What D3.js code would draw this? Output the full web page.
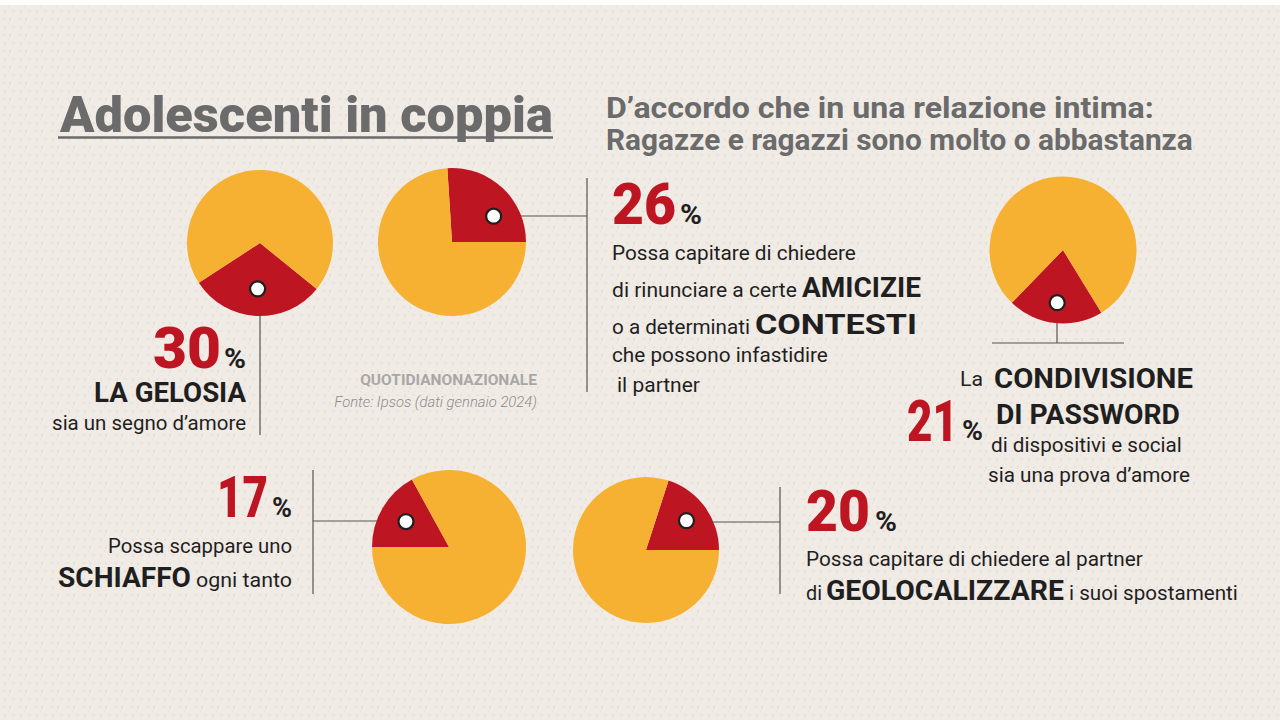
<!DOCTYPE html>
<html><head><meta charset="utf-8">
<script src="https://cdn.jsdelivr.net/npm/d3@7"></script>
<style>
html,body{margin:0;padding:0;background:#f1ebe6;}
svg{display:block;}
</style></head>
<body>
<svg id="c" width="1280" height="720"></svg>
<script>
// ---- data ----
const values = [30, 26, 21, 17, 20];
const percentLabels = ["30", "26", "21", "17", "20"];
const title = "Adolescenti in coppia";
const subtitle = ["D\u2019accordo che in una relazione intima:", "Ragazze e ragazzi sono molto o abbastanza"];
const source = ["QUOTIDIANONAZIONALE", "Fonte: Ipsos (dati gennaio 2024)"];

// ---- layout (positions / styles) ----
const ORANGE = "#f6b133", RED = "#bd1622", INK = "#1f1f1f", GREY = "#6b6b6b";
const pies = [
  {cx: 260, cy: 243, r: 73, start: 129,  t: 0.5,  d: 46},
  {cx: 452, cy: 242, r: 74, start: -3.6, t: 0.66, d: 49},
  {cx: 1063, cy: 250, r: 73.5, start: 148.5, t: 0.5, d: 53},
  {cx: 449, cy: 547, r: 77, start: 270, t: 0.5, d: 50},
  {cx: 646, cy: 550, r: 73, start: 18, t: 0.5, d: 50}
];

const svg = d3.select("#c");

// background pattern
const defs = svg.append("defs");
const pat = defs.append("pattern").attr("id","bgp").attr("width",16).attr("height",16).attr("patternUnits","userSpaceOnUse");
pat.append("rect").attr("width",16).attr("height",16).attr("fill","#f1ebe6");
pat.append("path").attr("d","M2 3h3M10 2v3M5 10v3M12 11h3M8 7h1").attr("stroke","#e5dcd5").attr("stroke-width",1.2);
svg.append("rect").attr("width",1280).attr("height",720).attr("fill","url(#bgp)");
svg.append("rect").attr("width",1280).attr("height",5).attr("fill","#ffffff");

// helper for text segments: condensed to a target width by horizontal scaling
function seg(x, y, txt, size, weight, fill, width, anchor, style) {
  const t = svg.append("text").attr("x", 0).attr("y", 0).text(txt)
    .attr("font-family", "Roboto, 'Noto Sans', sans-serif")
    .attr("font-size", size).attr("font-weight", weight).attr("fill", fill)
    .attr("text-anchor", anchor || "start");
  if (style) t.attr("font-style", style);
  let sx = 1;
  if (width) {
    const natural = t.node().getComputedTextLength();
    if (natural > 0) sx = width / natural;
  }
  t.attr("transform", `translate(${x},${y}) scale(${sx},1)`);
  return t;
}

// title
seg(60, 132, title, 50, 900, GREY, 493);
svg.append("line").attr("x1",58).attr("x2",553).attr("y1",137.5).attr("y2",137.5).attr("stroke",GREY).attr("stroke-width",2.5);
seg(606, 118, subtitle[0], 29, 700, GREY, 548);
seg(606, 150, subtitle[1], 29, 700, GREY, 587);

// leader lines
const lineSpec = [
  [[260,289],[260,435]],
  [[494,216],[587,216]], [[587,178],[587,392]],
  [[1057,303],[1057,343]], [[992,343],[1124,343]],
  [[406,521],[313,521]], [[313,470],[313,594]],
  [[687,522],[780,522]], [[780,487],[780,594]]
];
svg.append("g").selectAll("line").data(lineSpec).join("line")
  .attr("x1", d => d[0][0]).attr("y1", d => d[0][1])
  .attr("x2", d => d[1][0]).attr("y2", d => d[1][1])
  .attr("stroke", "#555").attr("stroke-width", 1.2);

// pies
const color = d3.scaleOrdinal().domain(["yes","no"]).range([RED, ORANGE]);
values.forEach((v, i) => {
  const p = pies[i];
  const s = p.start * Math.PI / 180;
  const pie = d3.pie().sort(null).value(d => d.v).startAngle(s).endAngle(s + 2 * Math.PI);
  const arcs = pie([{k:"yes", v: v}, {k:"no", v: 100 - v}]);
  const arc = d3.arc().innerRadius(0).outerRadius(p.r);
  const g = svg.append("g").attr("transform", `translate(${p.cx},${p.cy})`);
  g.selectAll("path").data(arcs).join("path")
    .attr("d", arc).attr("fill", d => color(d.data.k));
  const a = arcs[0].startAngle + (arcs[0].endAngle - arcs[0].startAngle) * p.t;
  g.append("circle").attr("cx", Math.sin(a) * p.d).attr("cy", -Math.cos(a) * p.d)
    .attr("r", 7.5).attr("fill", "#fff").attr("stroke", INK).attr("stroke-width", 2.2);
});

// ---- annotations ----
// 30%
seg(221, 368, percentLabels[0], 58, 900, RED, 68, "end");
seg(224, 368, "%", 28, 700, INK, 22);
seg(246, 402, "LA GELOSIA", 28, 700, INK, 152, "end");
seg(246, 430, "sia un segno d\u2019amore", 20, 400, INK, 194, "end");

// 26%
seg(612, 224, percentLabels[1], 58, 900, RED, 64);
seg(680, 224, "%", 28, 700, INK, 22);
seg(612, 260, "Possa capitare di chiedere", 20, 400, INK, 244);
seg(612, 297, "di rinunciare a certe", 20, 400, INK, 185);
seg(802, 297, "AMICIZIE", 28, 700, INK, 119);
seg(612, 334, "o a determinati", 20, 400, INK, 138);
seg(755, 334, "CONTESTI", 28, 700, INK, 162);
seg(612, 362, "che possono infastidire", 20, 400, INK, 216);
seg(617, 392, "il partner", 20, 400, INK, 83);

// 21%
seg(960, 386, "La", 20, 400, INK, 23);
seg(994, 388, "CONDIVISIONE", 28, 700, INK, 199);
seg(907, 441, percentLabels[2], 58, 900, RED, 51);
seg(962, 440, "%", 28, 700, INK, 21);
seg(996, 424, "DI PASSWORD", 28, 700, INK, 184);
seg(991, 452, "di dispositivi e social", 20, 400, INK, 191);
seg(988, 482, "sia una prova d\u2019amore", 20, 400, INK, 202);

// 17%
seg(268, 517, percentLabels[3], 58, 900, RED, 51, "end");
seg(272, 517, "%", 28, 700, INK, 20);
seg(292, 553, "Possa scappare uno", 20, 400, INK, 184, "end");
seg(58, 587, "SCHIAFFO", 28, 700, INK, 133);
seg(196, 587, "ogni tanto", 20, 400, INK, 96);

// 20%
seg(806, 531, percentLabels[4], 58, 900, RED, 64);
seg(875, 531, "%", 28, 700, INK, 22);
seg(806, 566, "Possa capitare di chiedere al partner", 20, 400, INK, 337);
seg(806, 600, "di", 20, 400, INK, 16);
seg(826, 600, "GEOLOCALIZZARE", 28, 700, INK, 238);
seg(1069, 600, "i suoi spostamenti", 20, 400, INK, 169);

// source
seg(537, 385, source[0], 15, 700, "#a9a7a5", 177, "end");
seg(537, 407, source[1], 15, 300, "#8f8c8a", 203, "end", "italic");
</script>
</body></html>
